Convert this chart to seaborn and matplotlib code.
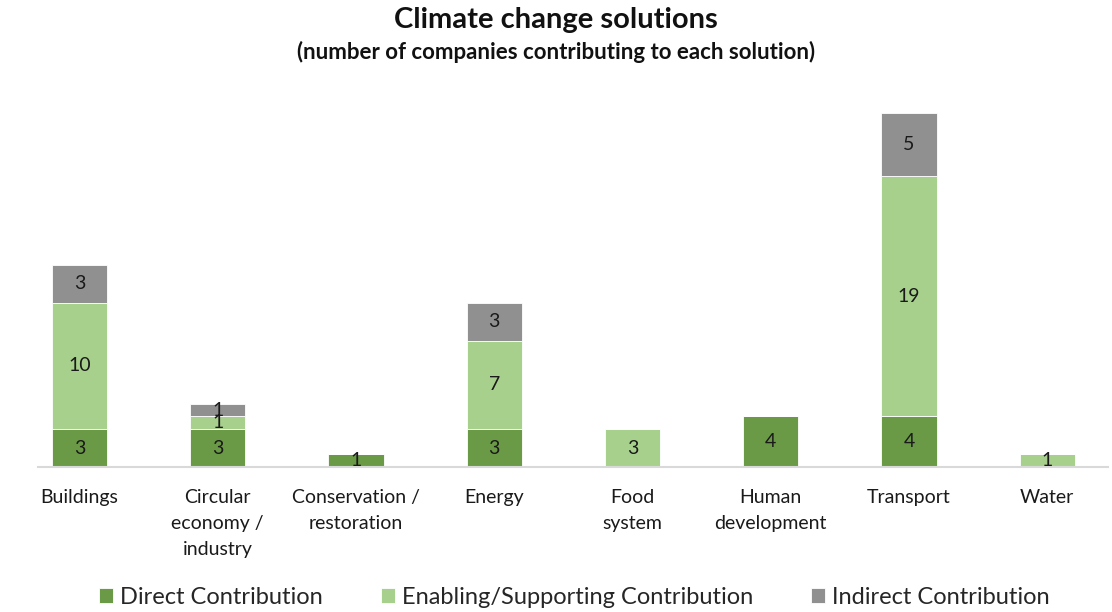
import numpy as np
import pandas as pd
import matplotlib
matplotlib.use("Agg")
import matplotlib.pyplot as plt
import seaborn as sns

# data
solutions = ["Buildings", "Circular\neconomy /\nindustry", "Conservation /\nrestoration",
             "Energy", "Food\nsystem", "Human\ndevelopment", "Transport", "Water"]
direct = [3, 3, 1, 3, 0, 4, 4, 0]
enabling = [10, 1, 0, 7, 3, 0, 19, 1]
indirect = [3, 1, 0, 3, 0, 0, 5, 0]

series = ["Direct Contribution", "Enabling/Supporting Contribution", "Indirect Contribution"]
colors = ["#6a9a46", "#a8d08d", "#909090"]

sns.set_theme(style="white")
plt.rcParams["font.family"] = ["Lato", "DejaVu Sans"]

fig = plt.figure(figsize=(11.12, 6.12), dpi=100)
ax = fig.add_axes([38 / 1112, 1 - 467 / 612, (1108 - 38) / 1112, (467 - 88) / 612])

df = pd.DataFrame({"solution": solutions, "direct": direct,
                   "enabling": enabling, "indirect": indirect})
bottoms = np.zeros(len(df))
for col, name, c in zip(["direct", "enabling", "indirect"], series, colors):
    sns.barplot(data=df, x="solution", y=col, color=c, width=0.4,
                bottom=bottoms, ax=ax, saturation=1, label=name,
                edgecolor="white", linewidth=0.6)
    cont = ax.containers[-1]
    labs = [str(v) if v > 0 else "" for v in df[col]]
    ax.bar_label(cont, labels=labs, label_type="center", fontsize=14, color="#1a1a1a")
    bottoms = bottoms + df[col].values

ax.set_xlim(-0.30, 7.44)
ax.set_ylim(0, 30)
ax.set_xlabel("")
ax.set_ylabel("")
ax.set_yticks([])
for s in ["top", "right", "left"]:
    ax.spines[s].set_visible(False)
ax.spines["bottom"].set_color("#d9d9d9")
ax.spines["bottom"].set_linewidth(1.5)
ax.tick_params(axis="x", length=0, pad=16, labelsize=14, labelcolor="#1a1a1a")
for lab in ax.get_xticklabels():
    lab.set_linespacing(1.62)

fig.text(0.5, 1 - 20 / 612, "Climate change solutions", ha="center", va="center",
         fontsize=21, fontweight="bold", color="#111111")
fig.text(0.5, 1 - 52 / 612, "(number of companies contributing to each solution)",
         ha="center", va="center", fontsize=16, fontweight="bold", color="#111111")

ax.legend(loc="center", bbox_to_anchor=(0.5166, 1 - 597 / 612), bbox_transform=fig.transFigure,
          ncol=3, frameon=False, fontsize=17, handlelength=0.6, handleheight=0.6,
          handletextpad=0.3, columnspacing=2.45)

fig.savefig("out.png", dpi=100)
